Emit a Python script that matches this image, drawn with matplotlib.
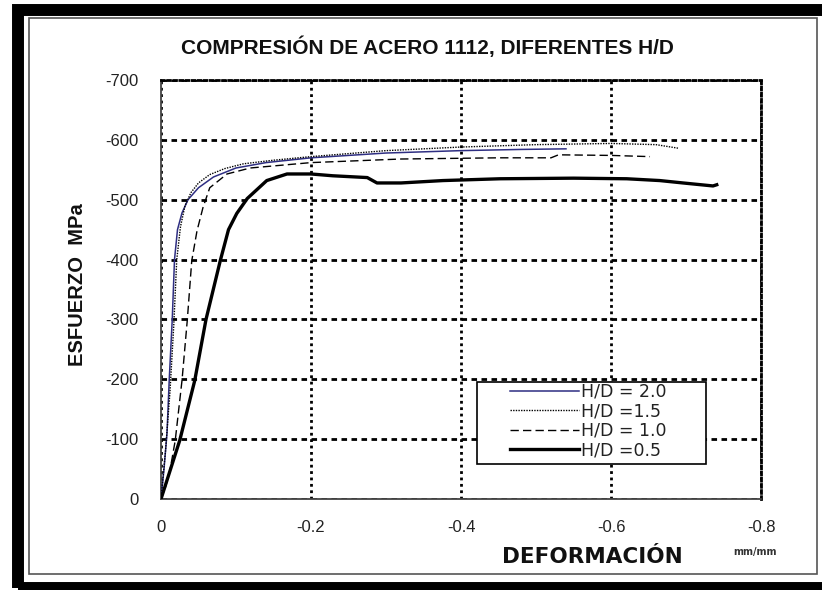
"""
Curvas esfuerzo-deformacion en compresion, acero 1112, varias relaciones H/D
"""

import matplotlib
matplotlib.use('Agg')
import matplotlib.pyplot as plt
from matplotlib.patches import Rectangle

plt.rcParams['axes.unicode_minus'] = False

# deformacion (mm/mm) y esfuerzo (MPa), compresion -> valores negativos
def_20 = [0, -0.004, -0.008, -0.011, -0.015, -0.018, -0.022, -0.028, -0.036, -0.05, -0.07,
          -0.1, -0.14, -0.2, -0.3, -0.4, -0.48, -0.54]
esf_20 = [0, -50, -110, -200, -300, -400, -450, -478, -500, -520, -538,
          -553, -562, -570, -578, -582, -584, -585]

def_15 = [0, -0.006, -0.012, -0.017, -0.021, -0.026, -0.032, -0.04, -0.05, -0.065, -0.085,
          -0.11, -0.15, -0.2, -0.3, -0.4, -0.5, -0.6, -0.66, -0.69]
esf_15 = [0, -80, -180, -290, -400, -455, -490, -512, -528, -542, -552,
          -560, -566, -572, -582, -588, -592, -594, -592, -586]

def_10 = [0, -0.006, -0.012, -0.019, -0.028, -0.035, -0.041, -0.048, -0.056, -0.065, -0.088,
          -0.119, -0.2, -0.32, -0.45, -0.52, -0.53, -0.6, -0.652]
esf_10 = [0, -20, -48, -98, -198, -298, -398, -448, -487, -520, -543,
          -553, -562, -568, -570, -570, -575, -574, -572]

def_05 = [0, -0.025, -0.045, -0.05, -0.06, -0.079, -0.09, -0.101, -0.115, -0.141, -0.168,
          -0.2, -0.229, -0.275, -0.288, -0.32, -0.376, -0.452, -0.55, -0.621, -0.665,
          -0.696, -0.736, -0.741]
esf_05 = [0, -98, -198, -232, -300, -398, -450, -477, -502, -532, -543,
          -543, -540, -537, -528, -528, -532, -535, -536, -535, -532,
          -528, -523, -525]

x_ticks = [0, -0.2, -0.4, -0.6, -0.8]
x_labels = ['0', '-0.2', '-0.4', '-0.6', '-0.8']
y_ticks = [0, -100, -200, -300, -400, -500, -600, -700]
y_labels = ['0', '-100', '-200', '-300', '-400', '-500', '-600', '-700']

W, H = 822, 590
fig = plt.figure(figsize=(W / 100, H / 100), dpi=100)
ax = fig.add_axes([161 / W, 91 / H, 600 / W, 419 / H])

sans = ['Liberation Sans', 'DejaVu Sans']

# curvas
ax.plot(def_20, esf_20, color='#2e2e82', lw=1.1, label='H/D = 2.0', zorder=4)
ax.plot(def_15, esf_15, color='black', lw=1.0, ls=(0, (1, 0.9)), label='H/D =1.5', zorder=4)
ax.plot(def_10, esf_10, color='black', lw=1.0, ls=(0, (6, 3)), label='H/D = 1.0', zorder=4)
ax.plot(def_05, esf_05, color='black', lw=2.4, label='H/D =0.5', zorder=4)

ax.set_xlim(0, -0.8)
ax.set_ylim(0, -700)
ax.set_xticks(x_ticks)
ax.set_xticklabels(x_labels)
ax.set_yticks(y_ticks)
ax.set_yticklabels(y_labels)
ax.tick_params(length=0, labelsize=12, colors='#222222')
ax.tick_params(axis='y', pad=16)
ax.tick_params(axis='x', pad=15)
for lab in ax.get_xticklabels() + ax.get_yticklabels():
    lab.set_family(sans)

# rejilla punteada
ax.yaxis.grid(True, color='black', lw=2.0, ls=(0, (2, 1.6)))
ax.xaxis.grid(True, color='black', lw=2.0, ls=(0, (1, 1.3)))
ax.set_axisbelow(True)
for side in ['top', 'right']:
    ax.spines[side].set_color('black')
    ax.spines[side].set_linewidth(2.0)
    ax.spines[side].set_linestyle((0, (1, 1.2)))
for side in ['left', 'bottom']:
    ax.spines[side].set_color('#444444')
    ax.spines[side].set_linewidth(1.3)

# leyenda: caja aparte para dejar margen a la izquierda de las muestras
ax.add_patch(Rectangle((0.527, 0.0835), 0.382, 0.196, transform=ax.transAxes,
                       facecolor='white', edgecolor='black', lw=1.2, zorder=5))
leg = ax.legend(loc='upper left', bbox_to_anchor=((510 - 161) / 600, (499 - 383) / 419),
                frameon=False, prop={'family': 'DejaVu Sans', 'size': 12.5},
                handlelength=4.0, handletextpad=0.1, labelspacing=0.08,
                borderpad=0, borderaxespad=0)
leg.set_zorder(6)
for t in leg.get_texts():
    t.set_color('#222222')

# textos
fig.text(427 / W, 1 - 47 / H, 'COMPRESIÓN DE ACERO 1112, DIFERENTES H/D', ha='center',
         va='center', fontsize=15, fontweight='bold', family=sans, color='#111111')
fig.text(77 / W, 1 - 285 / H, 'ESFUERZO  MPa', ha='center', va='center', rotation=90,
         fontsize=14.5, fontweight='bold', family=sans, color='#111111')
fig.text(592 / W, 1 - 557 / H, 'DEFORMACIÓN', ha='center', va='center', fontsize=15.5,
         fontweight='bold', family='DejaVu Sans', color='#111111')
fig.text(755 / W, 1 - 552 / H, 'mm/mm', ha='center', va='center', fontsize=7,
         fontweight='bold', family='DejaVu Sans', color='#333333')

# marco exterior negro y linea interior
fig.add_artist(Rectangle((18 / W, 2 / H), (824 - 18) / W, (580 - 2) / H,
                         transform=fig.transFigure, fill=False, edgecolor='black',
                         linewidth=8.6))
fig.add_artist(Rectangle((29 / W, 16 / H), (817 - 29) / W, (572 - 16) / H,
                         transform=fig.transFigure, fill=False, edgecolor='#555555',
                         linewidth=1.2))

fig.savefig('out.png', dpi=100)
